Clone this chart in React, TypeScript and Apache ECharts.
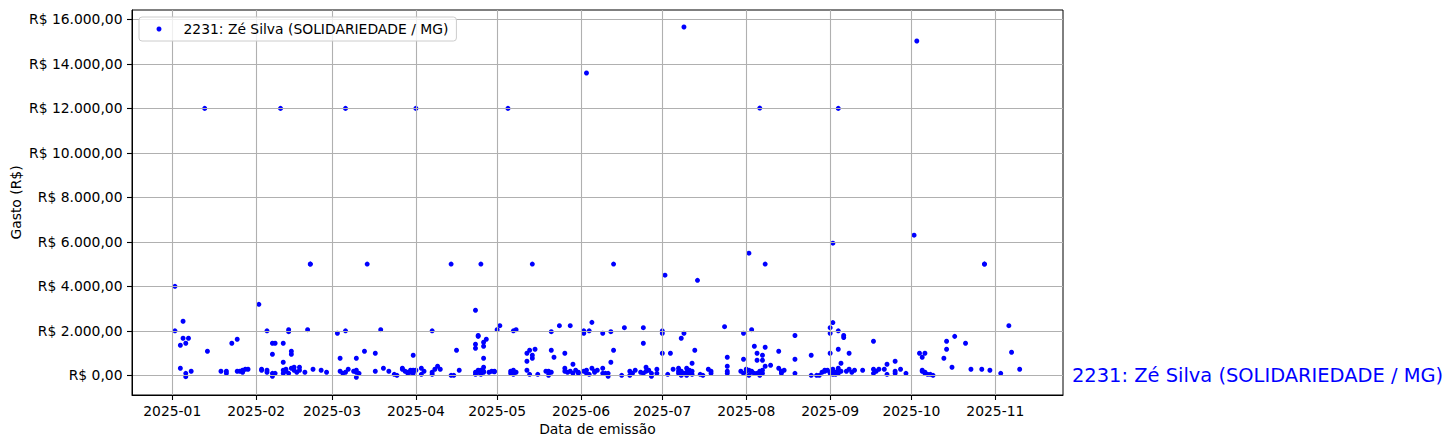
import React, { useEffect, useRef } from "react";
import * as echarts from "echarts";

const SERIES_NAME = "2231: Zé Silva (SOLIDARIEDADE / MG)";
const X_AXIS_NAME = "Data de emissão";
const Y_AXIS_NAME = "Gasto (R$)";
const xTickLabels = [
  "2025-01", "2025-02", "2025-03", "2025-04", "2025-05", "2025-06",
  "2025-07", "2025-08", "2025-09", "2025-10", "2025-11",
];
const yTickValues = [0, 2000, 4000, 6000, 8000, 10000, 12000, 14000, 16000];

// [day of month, value in R$] per month of 2025
const jan: [number, number][] = [
  [2, 4000], [2, 2000], [5, 2430], [5, 1665], [7, 1665], [4, 1350], [6, 1440], [4, 315], [6, 90],
  [8, 180], [6, -60], [13, 12000], [14, 1080], [19, 180], [21, 180], [21, 90], [23, 1440], [25, 1620],
  [25, 180], [26, 180], [27, 180], [27, 225], [27, 135], [28, 270], [29, 270],
];
const feb: [number, number][] = [
  [2, 3190], [5, 2000], [3, 225], [3, 270], [5, 225], [5, 135], [7, 1440], [8, 1440], [11, 1440],
  [7, 945], [7, 90], [7, -45], [8, 90], [10, 12000], [13, 2050], [13, 1960], [14, 1080], [14, 945],
  [11, 585], [11, 225], [12, 180], [12, 270], [14, 315], [15, 225], [15, 360], [17, 360], [17, 225],
  [11, 90], [13, 90], [16, 135], [19, 135], [20, 2050], [21, 5000], [21, 5000], [22, 270], [25, 225],
  [27, 135],
];
const mar: [number, number][] = [
  [3, 1890], [6, 2000], [6, 12000], [4, 765], [10, 765], [13, 1080], [14, 5000], [4, 180], [5, 90],
  [7, 270], [6, 135], [9, 180], [10, 135], [10, 225], [11, 90], [10, -90], [17, 990], [19, 2050],
  [17, 180], [20, 315], [22, 180], [24, 45], [25, 0], [27, 315], [27, 270], [28, 180], [29, 135],
  [30, 225], [30, 135], [31, 225], [29, 90], [31, 90], [31, 900],
];
const apr: [number, number][] = [
  [1, 12000], [1, 225], [3, 315], [4, 180], [3, 45], [7, 2000], [7, 135], [7, 45], [8, 270], [9, 405],
  [10, 270], [14, 0], [15, 0], [17, 225], [16, 1125], [14, 5000], [23, 2925], [24, 1790], [24, 1750],
  [23, 1395], [23, 1215], [26, 1485], [27, 1620], [26, 1305], [26, 765], [25, 5000], [23, 135],
  [24, 225], [24, 135], [25, 225], [26, 360], [26, 180], [26, 135], [23, 45], [25, 45], [28, 135],
  [29, 180], [30, 180], [30, 160],
];
const may: [number, number][] = [
  [1, 2050], [2, 2230], [5, 12000], [7, 2000], [8, 2050], [6, 180], [7, 225], [7, 135], [6, 90],
  [8, 135], [7, 45], [13, 1125], [12, 990], [15, 1170], [12, 630], [14, 900], [14, 765], [14, 5000],
  [12, 225], [13, 45], [16, 45], [19, 180], [20, 180], [20, 135], [20, 0], [21, 135], [21, 1960],
  [24, 2230], [28, 2230], [21, 1125], [22, 810], [26, 990], [29, 495], [26, 315], [26, 180], [27, 135],
  [28, 180], [29, 90], [31, 135], [31, 90], [30, 225],
];
const jun: [number, number][] = [
  [2, 2000], [2, 1890], [4, 2000], [5, 2380], [3, 13590], [2, 180], [3, 225], [3, 90], [5, 315],
  [6, 180], [6, 135], [7, 225], [4, 45], [9, 1890], [12, 1960], [17, 2140], [24, 2140], [24, 1440],
  [13, 1125], [12, 585], [13, 5000], [9, 315], [9, 90], [10, 90], [11, 90], [11, -45], [16, 0],
  [19, 180], [19, 0], [20, 90], [21, 225], [23, 135], [24, 90], [25, 360], [25, 180], [26, 225],
  [27, 90], [29, 270], [29, 90], [27, -45],
];
const jul: [number, number][] = [
  [1, 2000], [1, 1890], [1, 990], [4, 990], [2, 4500], [8, 1665], [9, 1890], [9, 15660], [13, 1125],
  [12, 540], [14, 4270], [3, 45], [5, 270], [7, 315], [7, 90], [8, 180], [8, 135], [10, 315], [11, 180],
  [11, 225], [12, 180], [8, 0], [10, 0], [12, 45], [7, 180], [9, 90], [10, 135], [11, 90], [15, 45],
  [16, 0], [18, 270], [19, 180], [19, 90], [24, 2185], [25, 810], [25, 405], [25, 180], [25, 90],
  [31, 720], [31, 1890], [30, 180], [31, 90],
];
const aug: [number, number][] = [
  [3, 2050], [2, 5490], [1, 270], [1, 180], [2, 225], [3, 180], [3, 135], [4, 90], [2, 0], [5, 90],
  [6, 180], [6, 135], [7, 225], [7, 90], [6, 0], [4, 1305], [5, 990], [5, 675], [6, 12015], [7, 900],
  [7, 675], [8, 1260], [8, 405], [8, 5000], [10, 450], [13, 1080], [13, 315], [14, 180], [14, 90],
  [15, 225], [14, 160], [19, 1790], [19, 720], [19, 90], [25, 900], [25, 0], [27, 0], [28, 0],
  [29, 135], [30, 225], [30, 180], [31, 225],
];
const sep: [number, number][] = [
  [1, 2140], [1, 1890], [1, 990], [2, 2370], [2, 5940], [1, 90], [2, 180], [2, 270], [4, 2000],
  [4, 12000], [6, 1790], [6, 1700], [4, 1170], [8, 990], [5, 540], [1, 135], [3, 135], [4, 225],
  [4, 315], [4, 180], [2, 45], [3, 45], [4, 90], [5, 180], [7, 180], [8, 270], [9, 135], [10, 225],
  [13, 225], [17, 1530], [17, 270], [17, 90], [18, 180], [19, 270], [21, 270], [22, 495], [22, 45],
  [25, 630], [25, 180], [25, 90], [27, 270], [29, 90],
];
const oct: [number, number][] = [
  [2, 6300], [3, 15030], [4, 990], [6, 990], [5, 810], [5, 225], [5, 180], [6, 135], [6, 90], [7, 45],
  [8, 45], [9, 0], [14, 1530], [14, 1170], [13, 765], [16, 360], [17, 1750], [21, 1440], [23, 270],
  [28, 5000], [28, 5000], [27, 270], [30, 225],
];
const nov: [number, number][] = [
  [3, 90], [6, 2230], [7, 1035], [10, 270],
];

const months = [jan, feb, mar, apr, may, jun, jul, aug, sep, oct, nov];

const DAY = 86400000;
const JAN1 = Date.UTC(2025, 0, 1);
const X_MIN = JAN1 - 14.86 * DAY;
const X_MAX = JAN1 + 329.0 * DAY;
const Y_MIN = -886;
const Y_MAX = 16423;

const FONT = "DejaVu Sans";

function brl(v: number): string {
  const s = Math.abs(v).toFixed(2);
  const [i, f] = s.split(".");
  const ii = i.replace(/\B(?=(\d{3})+(?!\d))/g, ".");
  return "R$ " + (v < 0 ? "-" : "") + ii + "," + f;
}

function monthLabel(v: number): string {
  const d = new Date(v);
  return d.getUTCFullYear() + "-" + String(d.getUTCMonth() + 1).padStart(2, "0");
}

export default function App() {
  const ref = useRef<HTMLDivElement>(null);
  useEffect(() => {
    if (!ref.current) return;
    const chart = echarts.init(ref.current, undefined, { renderer: "svg" });
    const data: [number, number][] = [];
    months.forEach((arr, m) => {
      arr.forEach(([d, v]) => data.push([Date.UTC(2025, m, d), v]));
    });
    const xTicks = xTickLabels.map((s) => {
      const [y, m] = s.split("-").map(Number);
      return Date.UTC(y, m - 1, 1);
    });
    chart.setOption({
      animation: false,
      textStyle: { fontFamily: FONT },
      grid: {
        left: 132,
        top: 10,
        width: 931,
        height: 385,
        show: true,
        borderColor: "#000",
        borderWidth: 1,
        backgroundColor: "transparent",
        containLabel: false,
        outerBoundsMode: "none",
      },
      legend: {
        left: 139,
        top: 17,
        data: [{ name: SERIES_NAME, icon: "circle" }],
        itemWidth: 5,
        itemHeight: 5,
        padding: [4, 8, 4, 17.5],
        borderColor: "#cccccc",
        borderWidth: 1,
        borderRadius: 3,
        backgroundColor: "rgba(255,255,255,0.8)",
        textStyle: {
          fontFamily: FONT,
          fontSize: 13.89,
          color: "#000",
          lineHeight: 16,
          padding: [0, 0, 0, 17],
        },
      },
      xAxis: {
        type: "value",
        min: X_MIN,
        max: X_MAX,
        z: 3,
        name: X_AXIS_NAME,
        nameLocation: "middle",
        nameGap: 27,
        nameMoveOverlap: false,
        nameTextStyle: { color: "#000", fontSize: 13.89, fontFamily: FONT },
        axisLine: { show: true, onZero: false, lineStyle: { color: "#000", width: 1 } },
        axisTick: { show: true, customValues: xTicks, length: 5, lineStyle: { color: "#000", width: 1.1 } },
        axisLabel: {
          customValues: xTicks,
          formatter: (v: number) => monthLabel(v),
          margin: 9,
          color: "#000",
          fontSize: 13.89,
          fontFamily: FONT,
        },
        splitLine: { show: true, lineStyle: { color: "#b0b0b0", width: 1.1 } },
      },
      yAxis: {
        type: "value",
        min: Y_MIN,
        max: Y_MAX,
        z: 3,
        name: Y_AXIS_NAME,
        nameLocation: "middle",
        nameGap: 109,
        nameMoveOverlap: false,
        nameTextStyle: { color: "#000", fontSize: 13.89, fontFamily: FONT },
        axisLine: { show: true, onZero: false, lineStyle: { color: "#000", width: 1 } },
        axisTick: { show: true, customValues: yTickValues, length: 5, lineStyle: { color: "#000", width: 1.1 } },
        axisLabel: {
          customValues: yTickValues,
          formatter: (v: number) => brl(v),
          margin: 9.5,
          color: "#000",
          fontSize: 13.89,
          fontFamily: FONT,
        },
        splitLine: { show: true, lineStyle: { color: "#b0b0b0", width: 1.1 } },
      },
      series: [
        {
          type: "scatter",
          name: SERIES_NAME,
          data,
          symbol: "circle",
          symbolSize: 5,
          itemStyle: { color: "#0000ff", opacity: 1 },
          z: 2,
        },
      ],
      graphic: [
        {
          type: "text",
          x: 1072,
          y: 375,
          style: {
            text: SERIES_NAME,
            fill: "#0000ff",
            fontSize: 19.44,
            fontFamily: FONT,
            align: "left",
            verticalAlign: "middle",
          },
        },
      ],
    });
    return () => chart.dispose();
  }, []);
  return (
    <div
      ref={ref}
      style={{ position: "absolute", left: 0, top: 0, width: 1452, height: 448 }}
    />
  );
}
